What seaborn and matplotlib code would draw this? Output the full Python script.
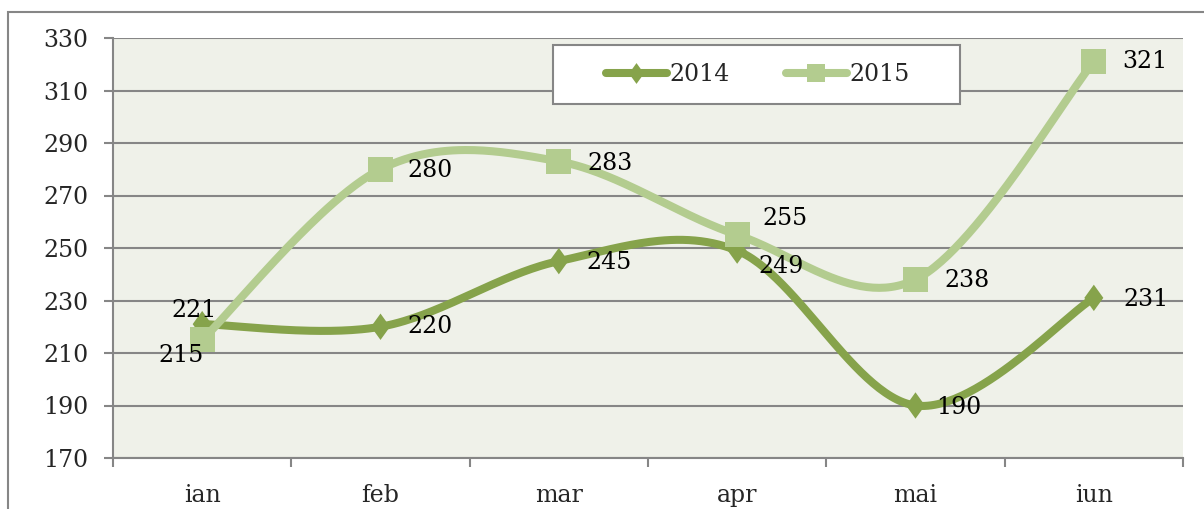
import numpy as np
import pandas as pd
import matplotlib
matplotlib.use("Agg")
import matplotlib.pyplot as plt
from matplotlib.lines import Line2D
from matplotlib.patches import Rectangle
from matplotlib.path import Path
import seaborn as sns

# --- data -------------------------------------------------------------
months = ["ian", "feb", "mar", "apr", "mai", "iun"]
values_2014 = [221, 220, 245, 249, 190, 231]
values_2015 = [215, 280, 283, 255, 238, 321]
series_names = ["2014", "2015"]
y_ticks = [170, 190, 210, 230, 250, 270, 290, 310, 330]

# --- style ------------------------------------------------------------
C2014 = "#86A34B"
C2015 = "#B3CC8F"
PLOT_BG = "#EFF1E9"
GRID = "#868686"
W, H = 1204, 509

sns.set_theme(style="white")
plt.rcParams["font.family"] = ["DejaVu Serif"]
plt.rcParams["font.size"] = 17

# tall diamond marker
diamond = Path([(0, 1), (0.72, 0), (0, -1), (-0.72, 0), (0, 1)],
               [Path.MOVETO, Path.LINETO, Path.LINETO, Path.LINETO, Path.CLOSEPOLY])

# label offsets in pixels (dx, dy) relative to each point
label_offsets = {
    "2014": [(-8, 14), (50, 0), (50, -1), (44, -16), (43, -2), (52, -2)],
    "2015": [(-21, -16), (50, -1), (51, -2), (48, 16), (52, -1), (51, 0)],
}


def smooth_curve(xs, ys, n=60):
    """Piecewise cubic Bezier through the points (Catmull-Rom style tangents)."""
    P = np.column_stack([xs, ys]).astype(float)
    ext = np.vstack([P[0], P, P[-1]])
    t = np.linspace(0, 1, n)[:, None]
    segs = []
    for i in range(len(P) - 1):
        p0, p1, p2, p3 = ext[i], ext[i + 1], ext[i + 2], ext[i + 3]
        c1 = p1 + (p2 - p0) / 6.0
        c2 = p2 - (p3 - p1) / 6.0
        b = ((1 - t) ** 3) * p1 + 3 * ((1 - t) ** 2) * t * c1 \
            + 3 * (1 - t) * t ** 2 * c2 + t ** 3 * p2
        segs.append(b if i == 0 else b[1:])
    pts = np.vstack(segs)
    return pts[:, 0], pts[:, 1]


df = pd.DataFrame({
    "month": months * 2,
    "x": list(range(len(months))) * 2,
    "value": values_2014 + values_2015,
    "series": ["2014"] * len(months) + ["2015"] * len(months),
})

fig = plt.figure(figsize=(W / 100, H / 100), dpi=100)
ax = fig.add_axes([113 / W, (H - 458) / H, 1070 / W, 420 / H])
ax.set_facecolor(PLOT_BG)

# outer chart frame
fig.patches.append(Rectangle((8 / W, -0.2), 1.2, 1.2 - 12 / H, transform=fig.transFigure,
                             fill=False, edgecolor=GRID, linewidth=1.5, zorder=0))

styles = {
    "2014": dict(color=C2014, marker=diamond, size=19 ** 2, z=3),
    "2015": dict(color=C2015, marker="s", size=18 ** 2, z=4),
}

for name in series_names:
    sub = df[df["series"] == name]
    st = styles[name]
    sx, sy = smooth_curve(sub["x"].values, sub["value"].values)
    ax.plot(sx, sy, color=st["color"], linewidth=5.8, solid_capstyle="round",
            solid_joinstyle="round", zorder=st["z"])
    sns.scatterplot(data=sub, x="x", y="value", ax=ax, marker=st["marker"],
                    s=st["size"], color=st["color"], edgecolor="none",
                    linewidth=0, zorder=st["z"] + 0.5, legend=False)
    for (xv, yv), (dx, dy) in zip(zip(sub["x"], sub["value"]), label_offsets[name]):
        ax.annotate(str(yv), (xv, yv), xytext=(dx, dy), textcoords="offset pixels",
                    ha="center", va="center", fontsize=17, color="black", zorder=10)

# axes
ax.set_xlim(-0.5, len(months) - 0.5)
ax.set_ylim(y_ticks[0], y_ticks[-1])
ax.set_yticks(y_ticks)
ax.set_xticks(range(len(months)))
ax.set_xticklabels(months)
ax.set_xticks(np.arange(-0.5, len(months), 1.0), minor=True)
ax.set_xlabel("")
ax.set_ylabel("")
ax.grid(axis="y", color=GRID, linewidth=1.5, zorder=1)
ax.set_axisbelow(True)
for side in ["top", "right"]:
    ax.spines[side].set_visible(False)
for side in ["left", "bottom"]:
    ax.spines[side].set_color(GRID)
    ax.spines[side].set_linewidth(1.5)
ax.tick_params(axis="y", which="major", length=6.5, width=1.5, color=GRID,
               direction="out", pad=11, labelsize=17, left=True)
ax.tick_params(axis="x", which="major", length=0, pad=19, labelsize=17)
ax.tick_params(axis="x", which="minor", length=6.5, width=1.5, color=GRID,
               direction="out", bottom=True)

# legend box
fig.patches.append(Rectangle((553 / W, 1 - 104 / H), (960 - 553) / W, (104 - 45) / H,
                             transform=fig.transFigure, facecolor="white",
                             edgecolor=GRID, linewidth=1.5, zorder=5))
handles = [
    Line2D([], [], color=C2014, linewidth=5.8, solid_capstyle="round",
           marker=diamond, markersize=15, markeredgewidth=0),
    Line2D([], [], color=C2015, linewidth=5.8, solid_capstyle="round",
           marker="s", markersize=13, markeredgewidth=0),
]
leg = fig.legend(handles, series_names, loc="center",
                 bbox_to_anchor=(758 / W, 1 - 74.5 / H), ncol=2, frameon=False,
                 fontsize=17, handlelength=2.55, handletextpad=0.12,
                 columnspacing=2.4)
leg.set_zorder(6)

fig.savefig("out.png", dpi=100)
